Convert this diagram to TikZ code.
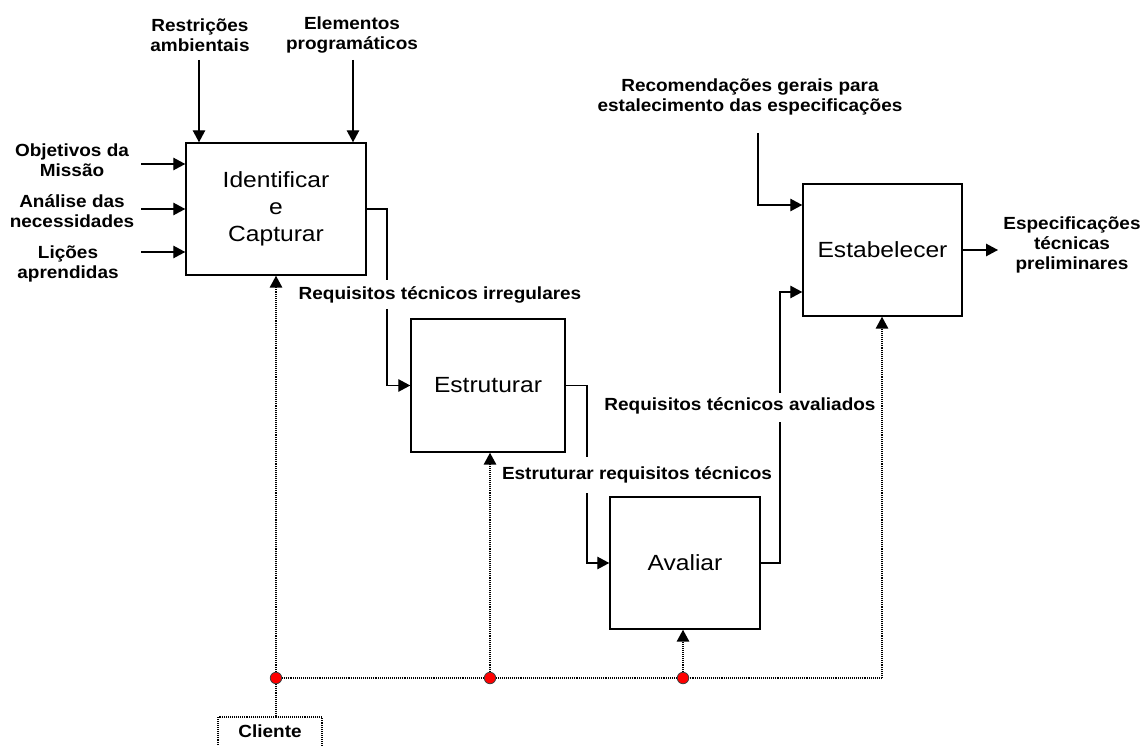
\documentclass[tikz,border=0pt]{standalone}
\usepackage{fontspec}
\setmainfont{Liberation Sans}
\newfontfamily\labf{Liberation Sans}[FakeStretch=1.08]
\newfontfamily\boxf{Liberation Sans}[FakeStretch=1.12]
\usetikzlibrary{arrows.meta}
\begin{document}
\begin{tikzpicture}[x=0.02cm,y=-0.02cm,
  box/.style={draw, line width=0.85pt, font=\boxf\fontsize{12.5}{15.3}\selectfont, align=center, inner sep=0pt},
  lab/.style={font=\labf\bfseries\fontsize{10}{11.3}\selectfont, align=center, inner sep=0pt},
  arr/.style={line width=0.75pt, -{Triangle[length=0.24cm,width=0.25cm]}},
  ln/.style={line width=0.75pt},
  dotl/.style={line width=0.9pt, dash pattern=on 0.55pt off 0.55pt},
  dotarr/.style={-{Triangle[length=0.24cm,width=0.25cm]}},
  rdot/.style={circle, fill=red, draw=black!75, line width=0.45pt, minimum size=0.23cm, inner sep=0pt}]
\useasboundingbox (0,0) rectangle (1143,746);

% boxes
\node[box, minimum width=3.6cm, minimum height=2.64cm] (id) at (276,209) {Identificar\\e\\Capturar};
\node[box, minimum width=3.08cm, minimum height=2.66cm] (es) at (488,385.5) {Estruturar};
\node[box, minimum width=3.0cm, minimum height=2.64cm] (av) at (685,563) {Avaliar};
\node[box, minimum width=3.18cm, minimum height=2.64cm] (eb) at (882.5,250) {Estabelecer};

% labels
\node[lab] (lr) at (200,35) {Restrições\\ambientais};
\node[lab] (le) at (352,35) {Elementos\\programáticos};
\node[lab] (lo) at (72,160) {Objetivos da\\Missão};
\node[lab] (la) at (72,211) {Análise das\\necessidades};
\node[lab] (ll) at (68,264) {Lições\\aprendidas};
\node[lab] (lrec) at (750,97) {Recomendações gerais para\\estalecimento das especificações};
\node[lab] (lesp) at (1072,245) {Especificações\\técnicas\\preliminares};
\node[lab] (lri) at (440,295) {Requisitos técnicos irregulares};
\node[lab] (ler) at (637,475) {Estruturar requisitos técnicos};
\node[lab] (lra) at (740,406) {Requisitos técnicos avaliados};

% inputs to Identificar
\coordinate (t1) at (199,60);
\coordinate (t2) at (353,60);
\draw[arr] (t1) -- (t1 |- id.north);
\draw[arr] (t2) -- (t2 |- id.north);
\coordinate (i1) at (141,164);
\coordinate (i2) at (141,209);
\coordinate (i3) at (141,252);
\draw[arr] (i1) -- (i1 -| id.west);
\draw[arr] (i2) -- (i2 -| id.west);
\draw[arr] (i3) -- (i3 -| id.west);

% flow between boxes
\coordinate (g1a) at (387,280);
\coordinate (g1b) at (387,309);
\draw[ln] (id.east) -| (g1a);
\draw[arr] (g1b) |- (es.west);

\coordinate (g2a) at (587,457);
\coordinate (g2b) at (587,493);
\draw[ln] (es.east) -| (g2a);
\draw[arr] (g2b) |- (av.west);

\coordinate (g3a) at (780,422);
\coordinate (g3b) at (780,393);
\draw[ln] (av.east) -| (g3a);
\draw[arr] (g3b) |- ([yshift=-0.84cm]eb.west);

\coordinate (rtop) at (758,133);
\draw[arr] (rtop) |- ([yshift=0.9cm]eb.west);

\coordinate (oend) at (998,250);
\draw[arr] (eb.east) -- (oend);

% Cliente
\node[lab, draw, dotl, anchor=north, minimum width=2.08cm, inner xsep=0pt, inner ysep=0.15cm, text depth=1.5cm] (cli) at (270,716) {Cliente};

% dotted control lines
\coordinate (d1) at (276,678);
\coordinate (d2) at (490,678);
\coordinate (d3) at (683,678);
\coordinate (d4) at (882,678);
\draw[dotl] (d1) -- (d2) -- (d3) -- (d4);
\draw[dotl, dotarr] (d1) -- (d1 |- id.south);
\draw[dotl, dotarr] (d2) -- (d2 |- es.south);
\draw[dotl, dotarr] (d3) -- (d3 |- av.south);
\draw[dotl, dotarr] (d4) -- (d4 |- eb.south);
\draw[dotl] (d1) -- (d1 |- cli.north);
\node[rdot] (r1) at (d1) {};
\node[rdot] (r2) at (d2) {};
\node[rdot] (r3) at (d3) {};
\end{tikzpicture}
\end{document}
